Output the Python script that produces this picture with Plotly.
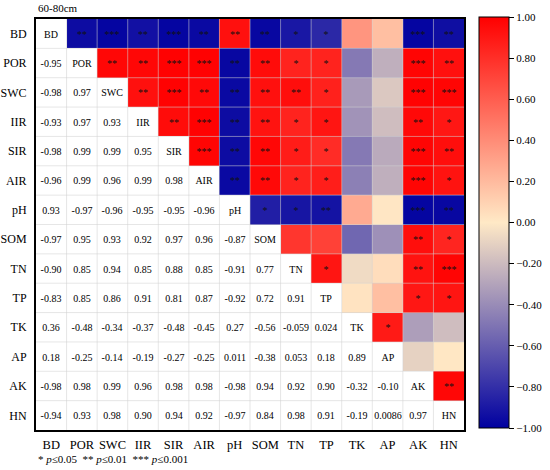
import math
import plotly.graph_objects as go

labels = ["BD", "POR", "SWC", "IIR", "SIR", "AIR", "pH", "SOM", "TN", "TP", "TK", "AP", "AK", "HN"]

# lower-triangle correlation coefficients (row i, columns 0..i-1)
r_POR = [-0.95]
r_SWC = [-0.98, 0.97]
r_IIR = [-0.93, 0.97, 0.93]
r_SIR = [-0.98, 0.99, 0.99, 0.95]
r_AIR = [-0.96, 0.99, 0.96, 0.99, 0.98]
r_pH = [0.93, -0.97, -0.96, -0.95, -0.95, -0.96]
r_SOM = [-0.97, 0.95, 0.93, 0.92, 0.97, 0.96, -0.87]
r_TN = [-0.90, 0.85, 0.94, 0.85, 0.88, 0.85, -0.91, 0.77]
r_TP = [-0.83, 0.85, 0.86, 0.91, 0.81, 0.87, -0.92, 0.72, 0.91]
r_TK = [0.36, -0.48, -0.34, -0.37, -0.48, -0.45, 0.27, -0.56, -0.059, 0.024]
r_AP = [0.18, -0.25, -0.14, -0.19, -0.27, -0.25, 0.011, -0.38, 0.053, 0.18, 0.89]
r_AK = [-0.98, 0.98, 0.99, 0.96, 0.98, 0.98, -0.98, 0.94, 0.92, 0.90, -0.32, -0.10]
r_HN = [-0.94, 0.93, 0.98, 0.90, 0.94, 0.92, -0.97, 0.84, 0.98, 0.91, -0.19, 0.0086, 0.97]

# significance stars of upper triangle (row i, columns i+1..13)
s_BD = ["**", "***", "**", "***", "**", "**", "**", "*", "*", "", "", "***", "**"]
s_POR = ["**", "**", "***", "***", "**", "**", "*", "*", "", "", "***", "**"]
s_SWC = ["**", "***", "**", "**", "**", "**", "*", "", "", "***", "***"]
s_IIR = ["**", "***", "**", "**", "*", "*", "", "", "**", "*"]
s_SIR = ["***", "**", "**", "*", "*", "", "", "***", "**"]
s_AIR = ["**", "**", "*", "*", "", "", "***", "*"]
s_pH = ["*", "*", "**", "", "", "***", "**"]
s_SOM = ["", "", "", "", "**", "*"]
s_TN = ["*", "", "", "**", "***"]
s_TP = ["", "", "*", "*"]
s_TK = ["*", "", ""]
s_AP = ["", ""]
s_AK = ["**"]

lower_rows = [[], r_POR, r_SWC, r_IIR, r_SIR, r_AIR, r_pH, r_SOM, r_TN, r_TP, r_TK, r_AP, r_AK, r_HN]
star_rows = [s_BD, s_POR, s_SWC, s_IIR, s_SIR, s_AIR, s_pH, s_SOM, s_TN, s_TP, s_TK, s_AP, s_AK, []]

n = len(labels)
R = [[1.0 if i == j else None for j in range(n)] for i in range(n)]
for i, row in enumerate(lower_rows):
    for j, v in enumerate(row):
        R[i][j] = v
        R[j][i] = v


def fmt(v):
    a = abs(v)
    d = 2 if a >= 0.1 else 2 - int(math.floor(math.log10(a))) - 1
    return f"{v:.{d}f}"


# white cells (lower triangle + diagonal) with numbers / names
z_low, t_low, z_up, t_up = [], [], [], []
for i in range(n):
    zl, tl, zu, tu = [], [], [], []
    for j in range(n):
        if j < i:
            zl.append(0); tl.append(fmt(R[i][j])); zu.append(None); tu.append("")
        elif j == i:
            zl.append(0); tl.append(labels[i]); zu.append(None); tu.append("")
        else:
            zl.append(None); tl.append(""); zu.append(R[i][j]); tu.append(star_rows[i][j - i - 1])
    z_low.append(zl); t_low.append(tl); z_up.append(zu); t_up.append(tu)

xs = list(range(n))
ys = list(range(n))
serif = "Liberation Serif, Times New Roman, serif"

W, H = 550, 470
ML, MR, MT, MB = 36, 86, 19, 40
PW = W - ML - MR
PH = H - MT - MB

fig = go.Figure()
fig.add_trace(go.Heatmap(
    z=z_low, x=xs, y=ys, text=t_low, texttemplate="%{text}",
    textfont=dict(family=serif, size=10, color="black"),
    colorscale=[[0, "white"], [1, "white"]], showscale=False, hoverinfo="skip",
))
fig.add_trace(go.Heatmap(
    z=z_up, x=xs, y=ys, text=t_up, texttemplate="%{text}",
    textfont=dict(family=serif, size=10, color="#111111"),
    zmin=-1, zmax=1,
    colorscale=[[0, "#0000A0"], [0.5, "#FFE9C6"], [1, "#FF0000"]],
    colorbar=dict(
        x=1 + 15 / PW, xanchor="left", xpad=0,
        y=0.5 + 2 / PH, yanchor="middle", len=PH, lenmode="pixels", ypad=0,
        thickness=30, outlinecolor="black", outlinewidth=1,
        tickmode="array", tickvals=[-1, -0.8, -0.6, -0.4, -0.2, 0, 0.2, 0.4, 0.6, 0.8, 1.0],
        tickformat=".2f", ticks="outside", ticklen=5, tickcolor="black",
        tickfont=dict(family=serif, size=11, color="black"),
    ),
    hoverinfo="skip",
))

# faint cell grid
for k in range(1, n):
    fig.add_shape(type="line", x0=k - 0.5, x1=k - 0.5, y0=-0.5, y1=n - 0.5,
                  line=dict(color="rgba(210,210,210,0.55)", width=1), layer="above")
    fig.add_shape(type="line", y0=k - 0.5, y1=k - 0.5, x0=-0.5, x1=n - 0.5,
                  line=dict(color="rgba(210,210,210,0.55)", width=1), layer="above")

fig.update_xaxes(range=[-0.5, n - 0.5], tickmode="array", tickvals=xs, ticktext=labels,
                 showgrid=False, zeroline=False, showline=True, mirror=True, automargin=False,
                 linecolor="black", linewidth=2, ticks="", ticklabelstandoff=2, tickangle=0,
                 tickfont=dict(family=serif, size=12.5, color="black"))
fig.update_yaxes(range=[n - 0.5, -0.5], tickmode="array", tickvals=ys, ticktext=labels,
                 showgrid=False, zeroline=False, showline=True, mirror=True, automargin=False,
                 linecolor="black", linewidth=2, ticks="", ticklabelstandoff=5,
                 tickfont=dict(family=serif, size=12, color="black"))

fig.add_annotation(text="60-80cm", xref="paper", yref="paper", x=0, y=1.0, yshift=11,
                   xanchor="left", yanchor="middle", showarrow=False,
                   font=dict(family=serif, size=11, color="black"))
fig.add_annotation(text="* <i>p</i>≤0.05  ** <i>p</i>≤0.01  *** <i>p</i>≤0.001",
                   xref="paper", yref="paper", x=0, y=0, yshift=-29,
                   xanchor="left", yanchor="middle", showarrow=False,
                   font=dict(family=serif, size=11, color="black"))

fig.update_layout(width=W, height=H, margin=dict(l=ML, r=MR, t=MT, b=MB, autoexpand=False),
                  plot_bgcolor="white", paper_bgcolor="white")
fig.write_html("out.html", config={"displayModeBar": False},
               post_script="document.body.style.margin='0px';")
